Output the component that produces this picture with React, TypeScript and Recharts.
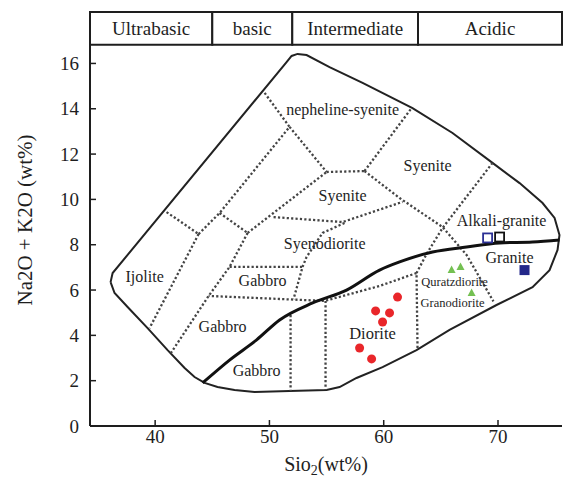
import React from 'react';
import { ScatterChart, Scatter, XAxis, YAxis, ReferenceArea } from 'recharts';

const FONT = '"Liberation Serif", "Times New Roman", Times, serif';
const INK = '#1e1e1e';

// SiO2 ranges of the header bands
const bands = [
  { name: 'Ultrabasic', from: 34.3, to: 45 },
  { name: 'basic', from: 45, to: 52 },
  { name: 'Intermediate', from: 52, to: 63 },
  { name: 'Acidic', from: 63, to: 75.6 },
];
const headerBase = 16.82;
const yTop = 18.27;

const xTicks = [40, 50, 60, 70];
const yTicks = [0, 2, 4, 6, 8, 10, 12, 14, 16];

// outer field boundary (solid)
const outerBoundary = [
  { x: 36.1, y: 6.35 }, { x: 36.28, y: 6.75 }, { x: 51.5, y: 16.06 }, { x: 51.94, y: 16.33 },
  { x: 52.46, y: 16.42 }, { x: 53.25, y: 16.37 }, { x: 55.26, y: 15.84 }, { x: 58.15, y: 15.14 },
  { x: 62.52, y: 14.03 }, { x: 66.02, y: 12.93 }, { x: 69.52, y: 11.61 }, { x: 71.89, y: 10.72 },
  { x: 73.9, y: 9.84 }, { x: 74.95, y: 9.18 }, { x: 75.38, y: 8.43 }, { x: 75.21, y: 7.77 },
  { x: 74.51, y: 6.88 }, { x: 73.02, y: 6.13 }, { x: 69.87, y: 5.34 }, { x: 65.76, y: 4.24 },
  { x: 62.87, y: 3.35 }, { x: 59.9, y: 2.6 }, { x: 57.62, y: 2.12 }, { x: 56.14, y: 1.72 },
  { x: 55.0, y: 1.59 }, { x: 51.76, y: 1.54 }, { x: 48.7, y: 1.5 }, { x: 46.95, y: 1.59 },
  { x: 45.46, y: 1.72 }, { x: 44.33, y: 1.9 }, { x: 43.45, y: 2.16 }, { x: 42.58, y: 2.56 },
  { x: 41.09, y: 3.35 }, { x: 39.34, y: 4.32 }, { x: 37.59, y: 5.25 }, { x: 36.45, y: 5.87 },
  { x: 36.1, y: 6.35 },
];

// alkaline / subalkaline divide (thick)
const alkalineLine = [
  { x: 44.15, y: 1.9 }, { x: 46.51, y: 2.91 }, { x: 48.88, y: 3.8 }, { x: 50.89, y: 4.68 },
  { x: 53.78, y: 5.43 }, { x: 56.75, y: 6.0 }, { x: 59.64, y: 6.88 }, { x: 61.39, y: 7.24 },
  { x: 64.27, y: 7.68 }, { x: 67.25, y: 7.9 }, { x: 70.14, y: 8.08 }, { x: 73.02, y: 8.12 },
  { x: 75.38, y: 8.21 },
];

// dotted field borders
const ijoliteTop = [{ x: 41.0, y: 9.44 }, { x: 43.8, y: 8.47 }];
const ijoliteRight = [{ x: 43.8, y: 8.47 }, { x: 39.51, y: 4.32 }];
const nephSyeniteLeft = [{ x: 43.8, y: 8.47 }, { x: 45.64, y: 9.4 }, { x: 51.76, y: 13.2 }];
const nephSyeniteTop = [{ x: 49.58, y: 14.7 }, { x: 51.76, y: 13.2 }];
const nephSyeniteLow = [{ x: 51.76, y: 13.2 }, { x: 55.0, y: 11.21 }];
const gabbroTopLink = [{ x: 45.64, y: 9.4 }, { x: 48.09, y: 8.52 }];
const gabbroLeft = [{ x: 48.09, y: 8.52 }, { x: 46.51, y: 7.02 }, { x: 44.68, y: 5.74 }, { x: 41.26, y: 3.13 }];
const syeniteLow = [{ x: 48.09, y: 8.52 }, { x: 55.0, y: 11.21 }];
const syeniteMid = [{ x: 55.0, y: 11.21 }, { x: 58.32, y: 11.25 }];
const syeniteUp = [{ x: 58.32, y: 11.25 }, { x: 62.44, y: 14.03 }];
const syeniteRightLow = [{ x: 58.32, y: 11.25 }, { x: 61.39, y: 10.06 }, { x: 65.15, y: 8.78 }, { x: 67.25, y: 7.55 }, { x: 69.6, y: 5.5 }];
const alkaliGraniteLeft = [{ x: 69.52, y: 11.61 }, { x: 65.15, y: 8.74 }, { x: 63.75, y: 7.59 }, { x: 62.87, y: 6.75 }, { x: 62.96, y: 3.4 }];
const dioriteTop = [{ x: 62.87, y: 6.75 }, { x: 59.64, y: 6.18 }, { x: 54.83, y: 5.52 }, { x: 44.68, y: 5.74 }];
const dioriteLeft = [{ x: 54.91, y: 5.52 }, { x: 54.91, y: 1.59 }];
const gabbroSplit = [{ x: 51.85, y: 4.9 }, { x: 51.85, y: 1.54 }];
const gabbroUpperTop = [{ x: 46.51, y: 7.02 }, { x: 52.9, y: 7.02 }];
const syenodioriteLeft = [{ x: 56.57, y: 8.96 }, { x: 54.65, y: 8.52 }, { x: 53.25, y: 7.46 }, { x: 52.9, y: 7.02 }, { x: 52.11, y: 5.6 }];
const syenodioriteTop = [{ x: 50.36, y: 9.22 }, { x: 56.4, y: 9.0 }, { x: 61.65, y: 9.89 }];

const fieldLines = [
  ijoliteTop, ijoliteRight, nephSyeniteLeft, nephSyeniteTop, nephSyeniteLow, gabbroTopLink,
  gabbroLeft, syeniteLow, syeniteMid, syeniteUp, syeniteRightLow, alkaliGraniteLeft,
  dioriteTop, dioriteLeft, gabbroSplit, gabbroUpperTop, syenodioriteLeft, syenodioriteTop,
];

const fieldNames = [
  { x: 56.4, y: 13.95, name: 'nepheline-syenite', size: 16 },
  { x: 63.84, y: 11.52, name: 'Syenite', size: 16 },
  { x: 56.4, y: 10.19, name: 'Syenite', size: 16 },
  { x: 54.83, y: 8.08, name: 'Syenodiorite', size: 16 },
  { x: 70.31, y: 9.09, name: 'Alkali-granite', size: 16 },
  { x: 71.01, y: 7.46, name: 'Granite', size: 16 },
  { x: 66.2, y: 6.35, name: 'Quratzdiorite', size: 12.5 },
  { x: 66.02, y: 5.43, name: 'Granodiorite', size: 12.5 },
  { x: 59.02, y: 4.1, name: 'Diorite', size: 16.5 },
  { x: 39.08, y: 6.58, name: 'Ijolite', size: 16 },
  { x: 49.4, y: 6.44, name: 'Gabbro', size: 16 },
  { x: 45.9, y: 4.41, name: 'Gabbro', size: 16 },
  { x: 48.88, y: 2.47, name: 'Gabbro', size: 16 },
];

// samples
const dioriteSamples = [
  { x: 61.21, y: 5.69 }, { x: 59.29, y: 5.08 }, { x: 60.51, y: 4.99 },
  { x: 59.9, y: 4.59 }, { x: 57.89, y: 3.44 }, { x: 58.94, y: 2.96 },
];
const quartzDioriteSamples = [{ x: 65.94, y: 6.88 }, { x: 66.72, y: 7.02 }, { x: 67.69, y: 5.87 }];
const openBlueSamples = [{ x: 69.09, y: 8.3 }];
const openBlackSamples = [{ x: 70.14, y: 8.34 }];
const graniteSamples = [{ x: 72.32, y: 6.88 }];

const noDot = () => <g />;

const FieldName = (p: any) => (
  <text x={p.cx} y={p.cy} dy="0.35em" textAnchor="middle" fontFamily={FONT} fontSize={p.payload.size} fill={INK}>
    {p.payload.name}
  </text>
);

const RedDot = (p: any) => <circle cx={p.cx} cy={p.cy} r={4.5} fill="#e9262a" />;
const GreenTriangle = (p: any) => (
  <path d={`M${p.cx},${p.cy - 4.5}L${p.cx + 4},${p.cy + 3}L${p.cx - 4},${p.cy + 3}Z`} fill="#74c052" />
);
const openSquare = (color: string) => (p: any) => (
  <rect x={p.cx - 4.5} y={p.cy - 4.5} width={9} height={9} fill="#fff" stroke={color} strokeWidth={1.8} />
);
const FilledSquare = (p: any) => (
  <rect x={p.cx - 5} y={p.cy - 5} width={10} height={10} fill="#23288a" />
);

const YTick = (props: any) => {
  const { x, y, payload } = props;
  return (
    <g>
      <line x1={x + 11} x2={x + 17} y1={y} y2={y} stroke={INK} strokeWidth={1.5} />
      <text x={x} y={y} dy="0.35em" textAnchor="end" fontFamily={FONT} fontSize={19} fill={INK}>
        {payload.value}
      </text>
    </g>
  );
};

const XTick = (props: any) => {
  const { x, y, payload } = props;
  return (
    <g>
      <line x1={x} x2={x} y1={y - 4} y2={y - 10} stroke={INK} strokeWidth={1.5} />
      <text x={x} y={y} dy="0.71em" textAnchor="middle" fontFamily={FONT} fontSize={19} fill={INK}>
        {payload.value}
      </text>
    </g>
  );
};

const XLabel = (props: any) => {
  const { viewBox } = props;
  return (
    <text x={viewBox.x + viewBox.width / 2} y={viewBox.y + 45} textAnchor="middle" fontFamily={FONT} fontSize={20} fill={INK}>
      Sio<tspan fontSize={14} dy={4}>2</tspan>
      <tspan dy={-4}>(wt%)</tspan>
    </text>
  );
};

const YLabel = () => (
  <text x={25} y={220} dy="0.35em" textAnchor="middle" transform="rotate(-90 25 220)" fontFamily={FONT} fontSize={21} fill={INK}>
    Na2O + K2O (wt%)
  </text>
);

export default function App() {
  return (
    <div style={{ position: 'absolute', left: 0, top: 0, width: 564, height: 477, background: '#fff' }}>
      <ScatterChart width={564} height={477} margin={{ top: 12, right: 2, bottom: 0, left: 0 }}>
        <XAxis
          type="number"
          dataKey="x"
          domain={[34.3, 75.6]}
          ticks={xTicks}
          allowDataOverflow
          height={51}
          tickSize={0}
          tickMargin={4}
          tick={<XTick />}
          axisLine={{ stroke: INK, strokeWidth: 2 }}
          label={XLabel}
        />
        <YAxis
          type="number"
          dataKey="y"
          domain={[0, yTop]}
          ticks={yTicks}
          allowDataOverflow
          width={90}
          tickSize={0}
          tickMargin={11}
          tick={<YTick />}
          axisLine={{ stroke: INK, strokeWidth: 2 }}
          label={YLabel}
        />
        {bands.map((b) => (
          <ReferenceArea
            key={b.name}
            x1={b.from}
            x2={b.to}
            y1={headerBase}
            y2={yTop}
            fill="#fff"
            fillOpacity={1}
            stroke={INK}
            strokeWidth={2}
            label={{ value: b.name, position: 'center', fontSize: 19, fontFamily: FONT, fill: INK }}
          />
        ))}
        <Scatter
          data={outerBoundary}
          line={{ stroke: '#222', strokeWidth: 2, fill: 'none' }}
          shape={noDot}
          isAnimationActive={false}
        />
        {fieldLines.map((pts, i) => (
          <Scatter
            key={i}
            data={pts}
            line={{ stroke: '#444', strokeWidth: 2.3, strokeDasharray: '2.2 2.2', fill: 'none' }}
            shape={noDot}
            isAnimationActive={false}
          />
        ))}
        <Scatter
          data={alkalineLine}
          line={{ stroke: '#111', strokeWidth: 3, fill: 'none' }}
          lineJointType="monotoneX"
          shape={noDot}
          isAnimationActive={false}
        />
        <Scatter data={fieldNames} shape={FieldName} isAnimationActive={false} />
        <Scatter data={dioriteSamples} shape={RedDot} isAnimationActive={false} />
        <Scatter data={quartzDioriteSamples} shape={GreenTriangle} isAnimationActive={false} />
        <Scatter data={openBlueSamples} shape={openSquare('#2b3094')} isAnimationActive={false} />
        <Scatter data={openBlackSamples} shape={openSquare('#111')} isAnimationActive={false} />
        <Scatter data={graniteSamples} shape={FilledSquare} isAnimationActive={false} />
      </ScatterChart>
    </div>
  );
}
